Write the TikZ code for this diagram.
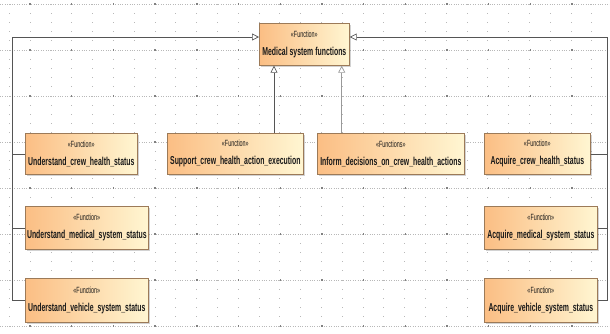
\documentclass[tikz,border=0pt]{standalone}
\usepackage{fontspec}
\newfontfamily\nodefont[FakeStretch=0.6]{Liberation Sans}
\usetikzlibrary{arrows.meta,shadows,calc}
\definecolor{fnleft}{HTML}{FBBE84}
\definecolor{fnright}{HTML}{FFF6D2}
\definecolor{fnborder}{HTML}{9C7A58}
\definecolor{conn}{HTML}{555555}
\definecolor{gridc}{HTML}{B8B8B8}
\tikzset{
  fnbox/.style={draw=fnborder, line width=0.7pt, left color=fnleft, right color=fnright,
    anchor=north west, align=center, inner sep=0pt, font=\nodefont\bfseries\fontsize{11.5}{18}\selectfont,
    text=black!90, drop shadow={shadow xshift=1.6pt, shadow yshift=-1.6pt, opacity=0.35, fill=gray}},
  conline/.style={draw=conn, line width=0.7pt},
  gen/.style={conline, -{Triangle[open, length=7pt, width=7pt, fill=white]}},
}
\newcommand{\stereo}{{\mdseries\fontsize{9}{9}\selectfont «Function»}}
\begin{document}
\begin{tikzpicture}[x=1pt,y=-1pt]
\useasboundingbox (0,0) rectangle (610,333);
\fill[white] (0,0) rectangle (610,333);
% grid
\foreach \k in {0,...,7}{
  \draw[gridc, line width=0.5pt, dash pattern=on 0.6pt off 1.8pt] (0,4+46*\k) -- (610,4+46*\k);
}
\foreach \i in {0,...,28}{
  \foreach \j in {0,...,35}{
    \fill[gridc] (9.4+20.8*\i-0.4,4+9.2*\j-0.4) rectangle ++(0.8,0.8);
  }
}
\foreach \i in {0,...,14}{
  \foreach \k in {0,...,7}{
    \fill[gray] (30+41.7*\i-0.7,4+46*\k-0.7) rectangle ++(1.4,1.4);
  }
}
% nodes
\node[fnbox, minimum width=90pt, minimum height=42pt] (med) at (259,23) {\stereo\\Medical system functions};
\node[fnbox, minimum width=112pt, minimum height=41pt] (ucrew) at (25,133) {\stereo\\Understand\_crew\_health\_status};
\node[fnbox, minimum width=136pt, minimum height=41pt] (sup) at (167,133) {\stereo\\Support\_crew\_health\_action\_execution};
\node[fnbox, minimum width=147pt, minimum height=41pt] (inf) at (317,133) {{\mdseries\fontsize{9}{9}\selectfont «Functions»}\\Inform\_decisions\_on\_crew\_health\_actions};
\node[fnbox, minimum width=106pt, minimum height=41pt] (acrew) at (484,133) {\stereo\\Acquire\_crew\_health\_status};
\node[fnbox, minimum width=123pt, minimum height=43pt] (umed) at (25,206) {\stereo\\Understand\_medical\_system\_status};
\node[fnbox, minimum width=123pt, minimum height=44pt] (uveh) at (25,278) {\stereo\\Understand\_vehicle\_system\_status};
\node[fnbox, minimum width=113pt, minimum height=43pt] (amed) at (484,206) {\stereo\\Acquire\_medical\_system\_status};
\node[fnbox, minimum width=113pt, minimum height=44pt] (aveh) at (484,278) {\stereo\\Acquire\_vehicle\_system\_status};
% connectors
\coordinate (L) at (12,37);
\coordinate (R) at (607,37);
\draw[conline] (umed.west) -- (umed.west -| L);
\draw[conline] (ucrew.west) -- (ucrew.west -| L);
\draw[gen] (uveh.west) -| (L) -- (L -| med.west);
\draw[conline] (amed.east) -- (amed.east -| R);
\draw[conline] (acrew.east) -- (acrew.east -| R);
\draw[gen] (aveh.east) -| (R) -- (R -| med.east);
\coordinate (p1) at ([xshift=15pt]med.south west);
\coordinate (p2) at ([xshift=-8pt]med.south east);
\draw[gen] (sup.north -| p1) -- (p1);
\draw[gen, draw=gray!80] (inf.north -| p2) -- (p2);
\end{tikzpicture}
\end{document}
